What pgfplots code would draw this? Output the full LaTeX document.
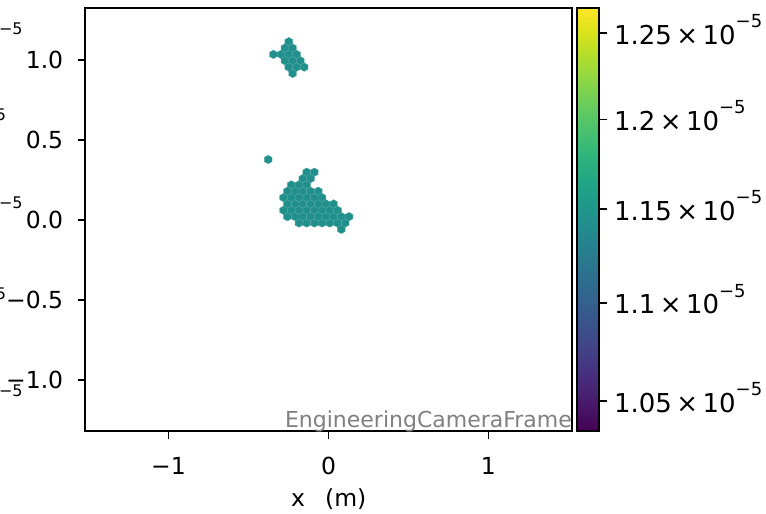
\documentclass[border=0pt]{standalone}
\usepackage{fontspec}
\setmainfont{DejaVu Sans}
\usepackage{pgfplots}
\pgfplotsset{compat=1.18}
\usepackage{pgfplotstable}

\definecolor{wm}{gray}{0.5}

% tick label of the colour bar, "a x 10^-5"
\newcommand{\sci}[1]{#1\hspace{0.17em}×\hspace{0.17em}10\raisebox{8.35pt}{\fontsize{9}{10}\selectfont −5}}

% hexbin cell, pointy top
\pgfdeclareplotmark{hexa}{%
  \pgfpathmoveto{\pgfqpoint{0pt}{2.117pt}}%
  \pgfpathlineto{\pgfqpoint{1.925pt}{1.058pt}}%
  \pgfpathlineto{\pgfqpoint{1.925pt}{-1.058pt}}%
  \pgfpathlineto{\pgfqpoint{0pt}{-2.117pt}}%
  \pgfpathlineto{\pgfqpoint{-1.925pt}{-1.058pt}}%
  \pgfpathlineto{\pgfqpoint{-1.925pt}{1.058pt}}%
  \pgfpathclose
  \pgfusepathqfillstroke}

% c = log10(value / 1e-5)
\pgfplotstableread{
x y c
-0.2481 1.1144 0.0585
-0.2722 1.0747 0.0585
-0.2241 1.0747 0.0585
-0.3444 1.0350 0.0585
-0.2963 1.0350 0.0585
-0.2481 1.0350 0.0585
-0.2000 1.0350 0.0585
-0.2722 0.9953 0.0585
-0.2241 0.9953 0.0585
-0.1759 0.9953 0.0585
-0.2481 0.9556 0.0585
-0.2000 0.9556 0.0585
-0.1519 0.9556 0.0585
-0.2241 0.9159 0.0585
}\hexup

\pgfplotstableread{
x y c
-0.3769 0.3781 0.0585
-0.1363 0.2988 0.0585
-0.0881 0.2988 0.0585
-0.1603 0.2591 0.0585
-0.1122 0.2591 0.0585
-0.2325 0.2194 0.0585
-0.1844 0.2194 0.0585
-0.1363 0.2194 0.0585
-0.2566 0.1797 0.0585
-0.2084 0.1797 0.0585
-0.1603 0.1797 0.0585
-0.1122 0.1797 0.0585
-0.0641 0.1797 0.0585
-0.2806 0.1400 0.0585
-0.2325 0.1400 0.0585
-0.1844 0.1400 0.0585
-0.1363 0.1400 0.0585
-0.0881 0.1400 0.0585
-0.0400 0.1400 0.0585
-0.2566 0.1003 0.0585
-0.2084 0.1003 0.0585
-0.1603 0.1003 0.0585
-0.1122 0.1003 0.0585
-0.0641 0.1003 0.0585
-0.0159 0.1003 0.0585
0.0322 0.1003 0.0585
-0.2806 0.0606 0.0585
-0.2325 0.0606 0.0585
-0.1844 0.0606 0.0585
-0.1363 0.0606 0.0585
-0.0881 0.0606 0.0585
-0.0400 0.0606 0.0585
0.0081 0.0606 0.0585
0.0563 0.0606 0.0585
-0.2566 0.0209 0.0585
-0.2084 0.0209 0.0585
-0.1603 0.0209 0.0585
-0.1122 0.0209 0.0585
-0.0641 0.0209 0.0585
-0.0159 0.0209 0.0585
0.0322 0.0209 0.0585
0.0803 0.0209 0.0585
0.1284 0.0209 0.0585
-0.1844 -0.0187 0.0585
-0.1363 -0.0187 0.0585
-0.0881 -0.0187 0.0585
-0.0400 -0.0187 0.0585
0.0081 -0.0187 0.0585
0.0563 -0.0187 0.0585
0.1044 -0.0187 0.0585
0.0803 -0.0584 0.0585
}\hexlow

\begin{document}
\begin{tikzpicture}
\begin{axis}[
  name=ax,
  scale only axis,
  width=243.5pt, height=211.4pt,
  xmin=-1.52, xmax=1.524,
  ymin=-1.319, ymax=1.323,
  axis line style={line width=0.88pt},
  tick style={black, line width=0.88pt},
  tick align=outside,
  major tick length=3.85pt,
  xtick pos=bottom, ytick pos=left,
  xtick={-1,0,1},
  xticklabels={−1,0,1},
  ytick={-1,-0.5,0,0.5,1},
  yticklabels={−1.0,−0.5,0.0,0.5,1.0},
  tick label style={font=\fontsize{11.75}{14}\selectfont},
  yticklabel style={inner sep=0pt, anchor=east, xshift=-7pt},
  xticklabel style={inner sep=0pt, anchor=north, yshift=-9pt},
  xlabel={x\hspace{0.85em}(m)},
  xlabel style={font=\fontsize{11.75}{14}\selectfont, inner sep=0pt,
    at={(axis description cs:0.5,0)}, anchor=base, yshift=-37.85pt},
  colormap/viridis,
  point meta min=0.015023, point meta max=0.10205,
  colorbar,
  colorbar style={
    at={(parent axis.north east)}, anchor=north west, xshift=-6.34pt,
    width=11.15pt,
    axis line style={line width=0.88pt},
    tick style={black, line width=0.88pt},
    tick align=outside,
    major tick length=3.85pt,
    ytick pos=right, yticklabel pos=right,
    ytick={0.021189,0.041393,0.060698,0.079181,0.096910},
    yticklabels={\sci{1.05},\sci{1.1},\sci{1.15},\sci{1.2},\sci{1.25}},
    yticklabel style={font=\fontsize{13}{15}\selectfont, inner sep=0pt,
      anchor=base west, xshift=3.5pt, yshift=-5.5pt},
  },
  scatter/use mapped color={draw=mapped color!80!white, fill=mapped color},
]
\addplot[scatter, only marks, mark=hexa, line width=0.2pt,
  point meta=explicit] table[x=x, y=y, meta=c] {\hexup};
\addplot[scatter, only marks, mark=hexa, line width=0.2pt,
  point meta=explicit] table[x=x, y=y, meta=c] {\hexlow};
\end{axis}

\node[anchor=base east, inner sep=0pt, text=wm,
  font=\fontsize{11}{13}\selectfont] at ([yshift=1.85pt]ax.south east)
  {EngineeringCameraFrame};

% cut-off labels at the left edge of the figure
\begin{scope}[every node/.style={anchor=east, inner sep=0pt,
    font=\fontsize{8}{9}\selectfont}]
\node at ([shift={(-31.15pt,-10.1pt)}]ax.north west) {−5};
\node at ([shift={(-39.4pt,-53.35pt)}]ax.north west) {−5};
\node at ([shift={(-31.15pt,-97.35pt)}]ax.north west) {−5};
\node at ([shift={(-39.4pt,-142.85pt)}]ax.north west) {−5};
\node at ([shift={(-31.15pt,-191.35pt)}]ax.north west) {−5};
\end{scope}

\pgfresetboundingbox
\path ([shift={(-42.65pt,-41pt)}]ax.south west)
  rectangle ([shift={(96.85pt,4.15pt)}]ax.north east);
\end{tikzpicture}
\end{document}
